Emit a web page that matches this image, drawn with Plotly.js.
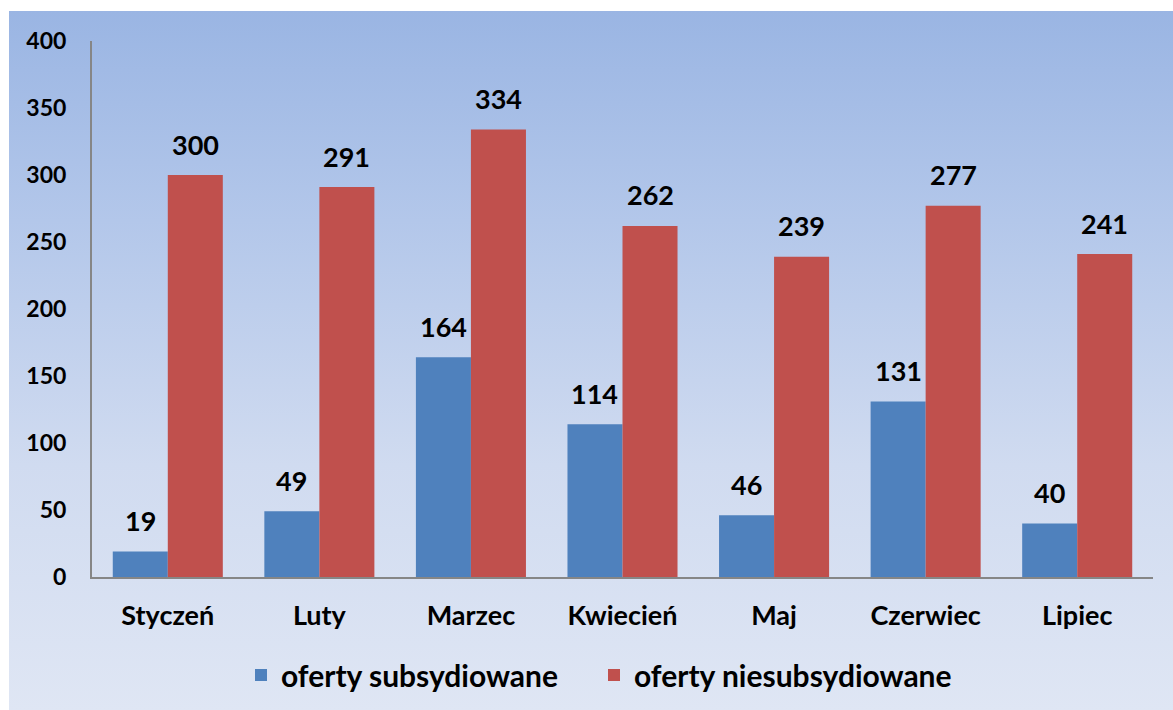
<!DOCTYPE html>
<html>
<head>
<meta charset="utf-8">
<script src="https://cdn.plot.ly/plotly-3.0.1.min.js"></script>
<style>
  html, body { margin: 0; padding: 0; background: #ffffff; }
  #bg { position: absolute; left: 9px; top: 11px; width: 1164px; height: 699px;
        background: linear-gradient(to bottom, #9ab5e3 0%, #b3c7ea 30%, #d0dbf0 65%, #dfe6f4 100%); }
  #chart { position: absolute; left: 0; top: 0; width: 1173px; height: 710px; }
</style>
</head>
<body>
<div id="bg"></div>
<div id="chart"></div>
<script>
const categories = ["Styczeń", "Luty", "Marzec", "Kwiecień", "Maj", "Czerwiec", "Lipiec"];
const subsydiowane = [19, 49, 164, 114, 46, 131, 40];
const niesubsydiowane = [300, 291, 334, 262, 239, 277, 241];
const seriesNames = ["oferty subsydiowane", "oferty niesubsydiowane"];
const yTicks = [0, 50, 100, 150, 200, 250, 300, 350, 400];

const W = 1173, H = 710;
const margin = { l: 92, r: 20, t: 41, b: 133 };
const bargap = 0.274;
const plotW = W - margin.l - margin.r;
const barW = plotW / categories.length * (1 - bargap) / 2;

const FONT = "Lato, 'Open Sans', sans-serif";
const legendFont = { family: FONT, size: 30, color: "#000000", weight: "bold" };

const traces = [
  { type: "bar", name: seriesNames[0], x: categories, y: subsydiowane,
    marker: { color: "#4f81bd" }, hoverinfo: "x+y", legend: "legend" },
  { type: "bar", name: seriesNames[1], x: categories, y: niesubsydiowane,
    marker: { color: "#c0504d" }, hoverinfo: "x+y", legend: "legend2" }
];

const annotations = [];
[subsydiowane, niesubsydiowane].forEach((vals, si) => {
  vals.forEach((v, i) => {
    annotations.push({
      x: categories[i], y: v, xref: "x", yref: "y",
      text: String(v), showarrow: false,
      xshift: (si === 0 ? -1 : 1) * barW / 2,
      yshift: 31, yanchor: "middle",
      font: { family: FONT, size: 27, color: "#000000", weight: "bold" }
    });
  });
});

const layout = {
  width: W, height: H,
  margin: margin,
  paper_bgcolor: "rgba(0,0,0,0)",
  plot_bgcolor: "rgba(0,0,0,0)",
  barmode: "group",
  bargap: bargap,
  bargroupgap: 0,
  font: { family: FONT, color: "#000000" },
  showlegend: true,
  legend: {
    orientation: "h", xref: "container", yref: "container",
    x: 241 / W, xanchor: "left", y: 1 - 675 / H, yanchor: "middle",
    font: legendFont, bgcolor: "rgba(0,0,0,0)"
  },
  legend2: {
    orientation: "h", xref: "container", yref: "container",
    x: 594 / W, xanchor: "left", y: 1 - 675 / H, yanchor: "middle",
    font: legendFont, bgcolor: "rgba(0,0,0,0)"
  },
  xaxis: {
    type: "category",
    showline: true, linecolor: "#868686", linewidth: 2,
    showgrid: false, zeroline: false, ticks: "",
    tickfont: { family: FONT, size: 27, color: "#000000", weight: "bold" },
    ticklabelstandoff: 14
  },
  yaxis: {
    range: [0, 400],
    tickvals: yTicks, ticktext: yTicks.map(String),
    showline: true, linecolor: "#868686", linewidth: 2,
    showgrid: false, zeroline: false, ticks: "",
    tickfont: { family: FONT, size: 23, color: "#000000", weight: "bold" },
    ticklabelstandoff: 19
  },
  annotations: annotations
};

Plotly.newPlot("chart", traces, layout, { displayModeBar: false });
</script>
</body>
</html>
